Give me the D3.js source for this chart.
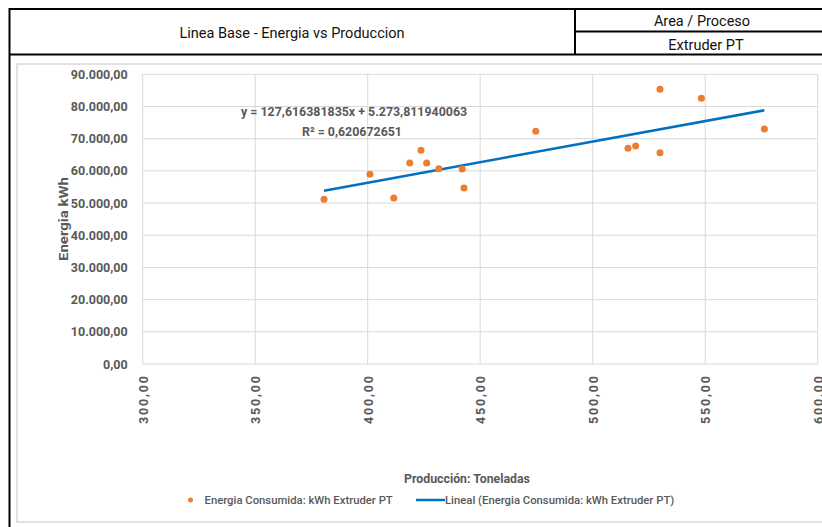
<!DOCTYPE html>
<html>
<head>
<meta charset="utf-8">
<script src="https://cdn.jsdelivr.net/npm/d3@7"></script>
<style>
  html, body { margin: 0; padding: 0; background: #fff; }
  svg { display: block; }
  .ui { font-family: Roboto, "Liberation Sans", sans-serif; }
</style>
</head>
<body>
<svg id="chart" width="822" height="527"></svg>
<script>
// Monthly production (tonnes) and energy consumed (kWh), Extruder PT
const produccion = [380.6, 401.0, 411.6, 418.7, 423.7, 426.2, 431.6, 442.0, 442.8, 474.7, 515.7, 519.1, 529.9, 529.9, 548.3, 576.3];
const energia    = [51150, 58930, 51570, 62440, 66390, 62440, 60670, 60580, 54680, 72290, 67010, 67720, 85340, 65640, 82540, 73000];

// Linear trendline as reported by the fit
const slope = 127.616381835;
const intercept = 5273.811940063;
const rSquared = 0.620672651;

const xTicks = [300, 350, 400, 450, 500, 550, 600];
const yTicks = [0, 10000, 20000, 30000, 40000, 50000, 60000, 70000, 80000, 90000];

const headerTitle = "Linea Base - Energia vs Produccion";
const headerAreaLabel = "Area / Proceso";
const headerArea = "Extruder PT";
const xTitle = "Producción: Toneladas";
const yTitle = "Energia kWh";
const seriesName = "Energia Consumida: kWh Extruder PT";
const trendName = "Lineal (Energia Consumida: kWh Extruder PT)";

const locale = d3.formatLocale({ decimal: ",", thousands: ".", grouping: [3], currency: ["$", ""] });
const fmt = locale.format(",.2f");
const fmtCoef = v => {
  const s = v.toFixed(9).split(".");
  return locale.format(",")(+s[0]) + "," + s[1];
};

const svg = d3.select("#chart");
const textGrey = "#595959";
const gridGrey = "#D9D9D9";
const orange = "#ED7D31";
const blue = "#0070C0";

// Header table
const hdr = svg.append("g");
const black = "#000";
const hline = (x1, x2, yy) => hdr.append("line").attr("x1", x1).attr("x2", x2).attr("y1", yy).attr("y2", yy)
  .attr("stroke", black).attr("stroke-width", 2);
const vline = (xx, y1, y2) => hdr.append("line").attr("x1", xx).attr("x2", xx).attr("y1", y1).attr("y2", y2)
  .attr("stroke", black).attr("stroke-width", 2);
hline(9, 822, 9);
hline(9, 822, 54.5);
hline(575, 822, 31.5);
vline(9.5, 8, 527);
vline(575, 9, 54.5);

const headerText = (tx, ty, s) => hdr.append("text").attr("class", "ui").attr("x", tx).attr("y", ty)
  .attr("text-anchor", "middle").attr("font-size", 14.5).attr("fill", "#111").text(s);
headerText(292, 38, headerTitle);
headerText(702, 26, headerAreaLabel);
headerText(706, 50, headerArea);

// Chart area frame
svg.append("rect").attr("x", 17).attr("y", 64).attr("width", 830).attr("height", 458)
  .attr("fill", "none").attr("stroke", gridGrey).attr("stroke-width", 1.5);

// Scales
const x = d3.scaleLinear().domain([300, 600]).range([142.7, 817.7]);
const y = d3.scaleLinear().domain([0, 90000]).range([364, 74.3]);

// Gridlines
const plot = svg.append("g");
plot.append("g").selectAll("line").data(yTicks).join("line")
  .attr("x1", x(300)).attr("x2", x(600))
  .attr("y1", d => y(d)).attr("y2", d => y(d))
  .attr("stroke", gridGrey).attr("stroke-width", 1);
plot.append("g").selectAll("line").data(xTicks).join("line")
  .attr("x1", d => x(d)).attr("x2", d => x(d))
  .attr("y1", y(0)).attr("y2", y(90000))
  .attr("stroke", gridGrey).attr("stroke-width", 1);

// Y axis labels
const yAxis = svg.append("g").attr("transform", `translate(${x(300)},0)`)
  .call(d3.axisLeft(y).tickValues(yTicks).tickFormat(fmt).tickSize(0).tickPadding(15));
yAxis.select(".domain").remove();
yAxis.selectAll("text").attr("class", "ui").attr("font-size", 12.5).attr("font-weight", "bold").attr("fill", textGrey);

// X axis labels, rotated to read upwards
const xAxis = svg.append("g").attr("transform", `translate(0,${y(0)})`)
  .call(d3.axisBottom(x).tickValues(xTicks).tickFormat(fmt).tickSize(0));
xAxis.select(".domain").remove();
xAxis.selectAll("text").attr("class", "ui").attr("font-size", 12.5).attr("font-weight", "bold").attr("fill", textGrey)
  .attr("transform", "rotate(-90)").attr("text-anchor", "end")
  .attr("x", -12).attr("y", 0).attr("dy", "0.35em")
  .attr("textLength", 48).attr("lengthAdjust", "spacing");

// Axis titles
svg.append("text").attr("class", "ui").attr("transform", "translate(67.5,219) rotate(-90)")
  .attr("text-anchor", "middle").attr("font-size", 13.5).attr("font-weight", "bold").attr("fill", textGrey)
  .attr("textLength", 84).attr("lengthAdjust", "spacingAndGlyphs").text(yTitle);
svg.append("text").attr("class", "ui").attr("x", 467).attr("y", 483)
  .attr("text-anchor", "middle").attr("font-size", 12.3).attr("font-weight", "bold").attr("fill", textGrey).text(xTitle);

// Trendline over the observed production range
const xMin = d3.min(produccion), xMax = d3.max(produccion);
const trend = [xMin, xMax].map(v => [v, slope * v + intercept]);
svg.append("path").datum(trend)
  .attr("d", d3.line().x(d => x(d[0])).y(d => y(d[1])))
  .attr("fill", "none").attr("stroke", blue).attr("stroke-width", 2.5);

// Points
svg.append("g").selectAll("circle").data(produccion.map((p, i) => [p, energia[i]])).join("circle")
  .attr("cx", d => x(d[0])).attr("cy", d => y(d[1])).attr("r", 3.5)
  .attr("fill", orange);

// Trendline label
svg.append("text").attr("class", "ui").attr("x", 241).attr("y", 116)
  .attr("font-size", 12.4).attr("font-weight", "bold").attr("fill", textGrey)
  .text(`y = ${fmtCoef(slope)}x + ${fmtCoef(intercept)}`);
svg.append("text").attr("class", "ui").attr("x", 302).attr("y", 136)
  .attr("font-size", 12.4).attr("font-weight", "bold").attr("fill", textGrey)
  .text(`R² = ${String(rSquared).replace(".", ",")}`);

// Legend
const lg = svg.append("g");
lg.append("circle").attr("cx", 190.5).attr("cy", 500).attr("r", 2.5).attr("fill", orange);
lg.append("text").attr("class", "ui").attr("x", 204.5).attr("y", 504)
  .attr("font-size", 11.3).attr("font-weight", 500).attr("fill", textGrey).text(seriesName);
lg.append("line").attr("x1", 416).attr("x2", 445).attr("y1", 500).attr("y2", 500)
  .attr("stroke", blue).attr("stroke-width", 2.5);
lg.append("text").attr("class", "ui").attr("x", 445).attr("y", 504)
  .attr("font-size", 11.3).attr("font-weight", 500).attr("fill", textGrey).text(trendName);
</script>
</body>
</html>
